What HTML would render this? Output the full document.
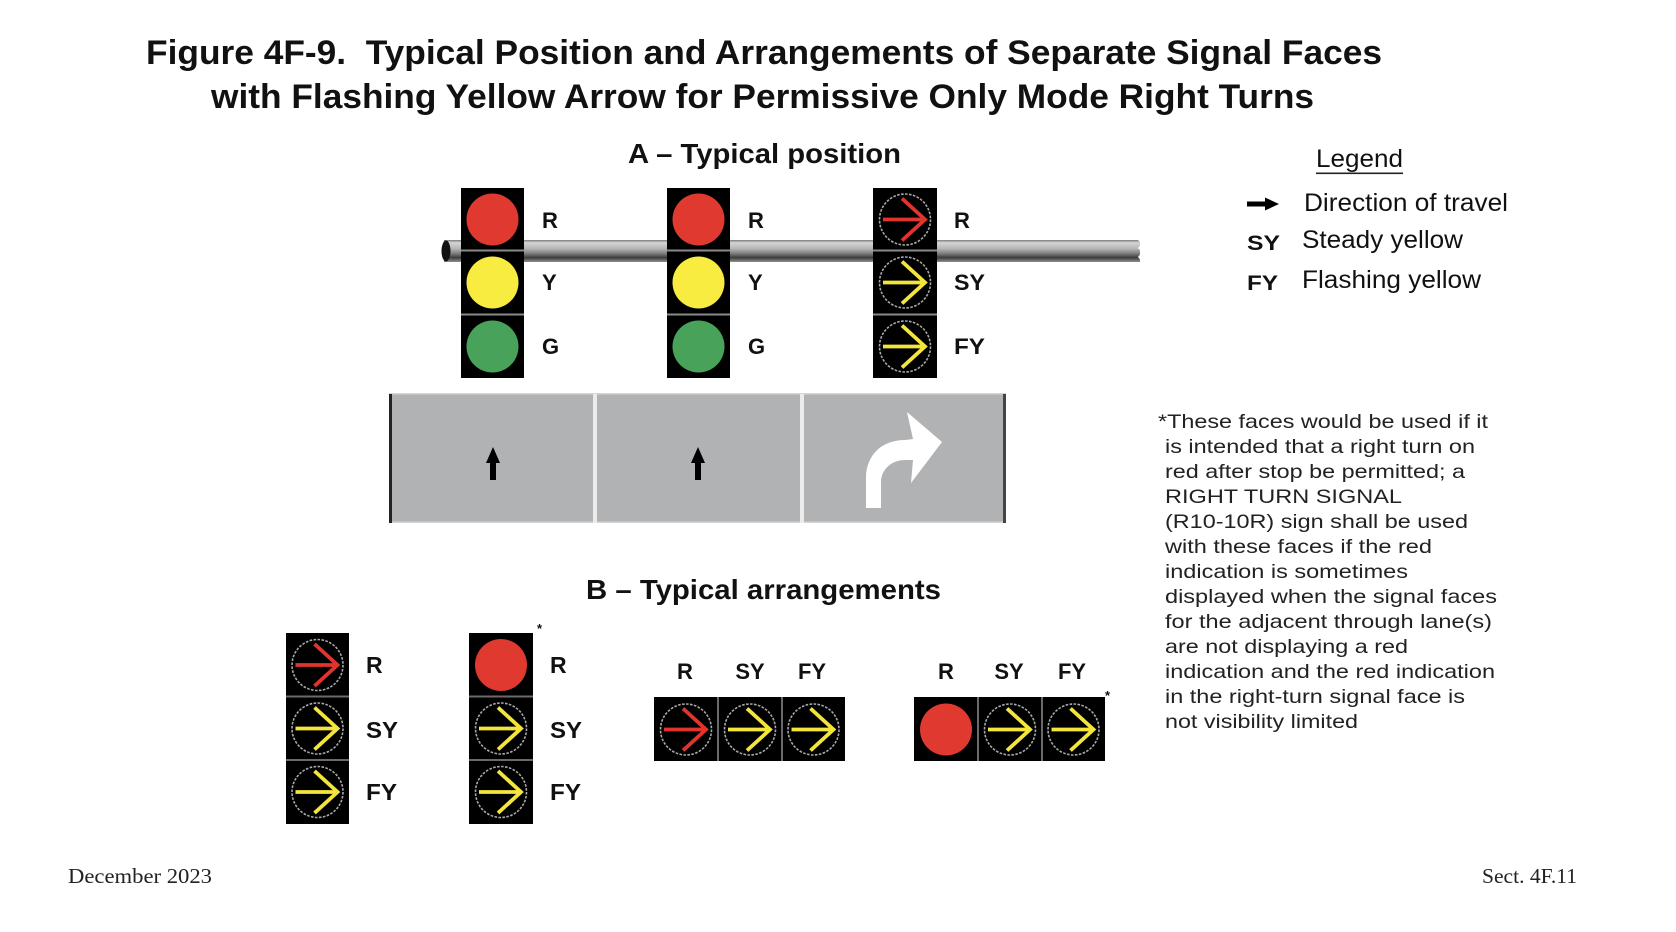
<!DOCTYPE html>
<html>
<head>
<meta charset="utf-8">
<style>
  html,body{margin:0;padding:0;background:#fff;}
  svg{display:block;}
  .t{font-family:"Liberation Sans",Arial,sans-serif;fill:#111;}
  .b{font-weight:bold;}
  .s{font-family:"Liberation Serif","Times New Roman",serif;fill:#222;}
</style>
</head>
<body>
<svg width="1676" height="932" viewBox="0 0 1676 932" xmlns="http://www.w3.org/2000/svg">
  <defs>
    <linearGradient id="pole" x1="0" y1="0" x2="0" y2="1">
      <stop offset="0" stop-color="#7a7a7a"/>
      <stop offset="0.12" stop-color="#d4d4d4"/>
      <stop offset="0.38" stop-color="#b8b8b8"/>
      <stop offset="0.6" stop-color="#828282"/>
      <stop offset="0.8" stop-color="#3c3c3c"/>
      <stop offset="1" stop-color="#909090"/>
    </linearGradient>
    <g id="aR">
      <circle r="25.5" fill="none" stroke="#a8a8a8" stroke-width="1.6" stroke-dasharray="2.6 1.4"/>
      <path d="M-22 0 H18 M-3 -21 L20 0 L-3 21" stroke="#e0342c" stroke-width="3.8" fill="none"/>
    </g>
    <g id="aY">
      <circle r="25.5" fill="none" stroke="#a8a8a8" stroke-width="1.6" stroke-dasharray="2.6 1.4"/>
      <path d="M-22 0 H18 M-3 -21 L20 0 L-3 21" stroke="#f3e53c" stroke-width="3.8" fill="none"/>
    </g>
  </defs>

  <!-- Title -->
  <text class="t b" x="146" y="64" font-size="34" textLength="1236" lengthAdjust="spacingAndGlyphs">Figure 4F-9.&#160; Typical Position and Arrangements of Separate Signal Faces</text>
  <text class="t b" x="211" y="108" font-size="34" textLength="1103" lengthAdjust="spacingAndGlyphs">with Flashing Yellow Arrow for Permissive Only Mode Right Turns</text>

  <!-- Section A title -->
  <text class="t b" x="628" y="163" font-size="28" textLength="273" lengthAdjust="spacingAndGlyphs">A – Typical position</text>

  <!-- Pole -->
  <rect x="444" y="240" width="696" height="22" fill="url(#pole)"/>
  <path d="M1138 240 L1142 244 L1138 248 L1142 252 L1138 257 L1142 262 L1146 262 L1146 240 Z" fill="#fff"/>
  <ellipse cx="446" cy="251" rx="4.5" ry="10.5" fill="#111"/>

  <!-- Section A heads -->
  <rect x="461" y="188" width="63" height="190" fill="#000"/>
  <rect x="461" y="249.5" width="63" height="2" fill="#8a8a8a"/>
  <rect x="461" y="313.5" width="63" height="2" fill="#8a8a8a"/>
  <circle cx="492.5" cy="219.5" r="26" fill="#e03a30"/>
  <circle cx="492.5" cy="282.5" r="26" fill="#f8ec40"/>
  <circle cx="492.5" cy="346.5" r="26" fill="#48a25a"/>
  <text class="t b" x="542" y="228" font-size="22">R</text>
  <text class="t b" x="542" y="290" font-size="22">Y</text>
  <text class="t b" x="542" y="354" font-size="22">G</text>

  <rect x="667" y="188" width="63" height="190" fill="#000"/>
  <rect x="667" y="249.5" width="63" height="2" fill="#8a8a8a"/>
  <rect x="667" y="313.5" width="63" height="2" fill="#8a8a8a"/>
  <circle cx="698.5" cy="219.5" r="26" fill="#e03a30"/>
  <circle cx="698.5" cy="282.5" r="26" fill="#f8ec40"/>
  <circle cx="698.5" cy="346.5" r="26" fill="#48a25a"/>
  <text class="t b" x="748" y="228" font-size="22">R</text>
  <text class="t b" x="748" y="290" font-size="22">Y</text>
  <text class="t b" x="748" y="354" font-size="22">G</text>

  <rect x="873" y="188" width="64" height="190" fill="#000"/>
  <rect x="873" y="249.5" width="64" height="2" fill="#8a8a8a"/>
  <rect x="873" y="313.5" width="64" height="2" fill="#8a8a8a"/>
  <use href="#aR" x="905" y="219.5"/>
  <use href="#aY" x="905" y="282.5"/>
  <use href="#aY" x="905" y="346.5"/>
  <text class="t b" x="954" y="228" font-size="22">R</text>
  <text class="t b" x="954" y="290" font-size="22" textLength="31" lengthAdjust="spacingAndGlyphs">SY</text>
  <text class="t b" x="954" y="354" font-size="22" textLength="31" lengthAdjust="spacingAndGlyphs">FY</text>

  <!-- Road -->
  <rect x="389" y="394" width="617" height="129" fill="#b1b2b4"/>
  <rect x="389" y="393" width="617" height="1.5" fill="#d6d6d6"/>
  <rect x="389" y="521.5" width="617" height="1.5" fill="#d6d6d6"/>
  <rect x="389" y="394" width="3" height="129" fill="#222"/>
  <rect x="1003" y="394" width="3" height="129" fill="#444"/>
  <rect x="593" y="394" width="4" height="129" fill="#ececec"/>
  <rect x="800" y="394" width="4" height="129" fill="#ececec"/>
  <path d="M486 463 L493 447 L500 463 Z" fill="#000"/>
  <rect x="490" y="460" width="6" height="20" fill="#000"/>
  <path d="M691 463 L698 447 L705 463 Z" fill="#000"/>
  <rect x="695" y="460" width="6" height="20" fill="#000"/>
  <path d="M866 508 L866 478 C866 456 881 440 905 440 L913 439 L907 412 L942 442 L911 483 L913 460 L905 460 C891 460 881 470 881 482 L881 508 Z" fill="#fff"/>

  <!-- Legend -->
  <text class="t" x="1316" y="167" font-size="25" textLength="87" lengthAdjust="spacingAndGlyphs">Legend</text>
  <rect x="1316" y="172.5" width="87" height="1.6" fill="#222"/>
  <rect x="1247" y="201.5" width="21" height="5" fill="#000"/>
  <path d="M1265 197.5 L1279 204 L1265 210.5 Z" fill="#000"/>
  <text class="t" x="1304" y="211" font-size="25" textLength="204" lengthAdjust="spacingAndGlyphs">Direction of travel</text>
  <text class="t b" x="1247" y="250" font-size="21" textLength="33" lengthAdjust="spacingAndGlyphs">SY</text>
  <text class="t" x="1302" y="248" font-size="25" textLength="161" lengthAdjust="spacingAndGlyphs">Steady yellow</text>
  <text class="t b" x="1247" y="290" font-size="21" textLength="31" lengthAdjust="spacingAndGlyphs">FY</text>
  <text class="t" x="1302" y="288" font-size="25" textLength="179" lengthAdjust="spacingAndGlyphs">Flashing yellow</text>

  <!-- Footnote -->
  <g class="t" font-size="19.5" style="fill:#222">
    <text x="1158" y="428" textLength="330" lengthAdjust="spacingAndGlyphs">*These faces would be used if it</text>
    <text x="1165" y="453" textLength="310" lengthAdjust="spacingAndGlyphs">is intended that a right turn on</text>
    <text x="1165" y="478" textLength="300" lengthAdjust="spacingAndGlyphs">red after stop be permitted; a</text>
    <text x="1165" y="503" textLength="237" lengthAdjust="spacingAndGlyphs">RIGHT TURN SIGNAL</text>
    <text x="1165" y="528" textLength="303" lengthAdjust="spacingAndGlyphs">(R10-10R) sign shall be used</text>
    <text x="1165" y="553" textLength="267" lengthAdjust="spacingAndGlyphs">with these faces if the red</text>
    <text x="1165" y="578" textLength="243" lengthAdjust="spacingAndGlyphs">indication is sometimes</text>
    <text x="1165" y="603" textLength="332" lengthAdjust="spacingAndGlyphs">displayed when the signal faces</text>
    <text x="1165" y="628" textLength="327" lengthAdjust="spacingAndGlyphs">for the adjacent through lane(s)</text>
    <text x="1165" y="653" textLength="243" lengthAdjust="spacingAndGlyphs">are not displaying a red</text>
    <text x="1165" y="678" textLength="330" lengthAdjust="spacingAndGlyphs">indication and the red indication</text>
    <text x="1165" y="703" textLength="300" lengthAdjust="spacingAndGlyphs">in the right-turn signal face is</text>
    <text x="1165" y="728" textLength="193" lengthAdjust="spacingAndGlyphs">not visibility limited</text>
  </g>

  <!-- Section B title -->
  <text class="t b" x="586" y="599" font-size="28" textLength="355" lengthAdjust="spacingAndGlyphs">B – Typical arrangements</text>

  <!-- B1 vertical -->
  <rect x="286" y="633" width="63" height="191" fill="#000"/>
  <rect x="286" y="695.5" width="63" height="2" fill="#6a6a6a"/>
  <rect x="286" y="759" width="63" height="2" fill="#6a6a6a"/>
  <use href="#aR" x="317.5" y="665"/>
  <use href="#aY" x="317.5" y="728.5"/>
  <use href="#aY" x="317.5" y="792"/>
  <text class="t b" x="366" y="673" font-size="23">R</text>
  <text class="t b" x="366" y="738" font-size="23" textLength="32" lengthAdjust="spacingAndGlyphs">SY</text>
  <text class="t b" x="366" y="800" font-size="23" textLength="31" lengthAdjust="spacingAndGlyphs">FY</text>

  <!-- B2 vertical -->
  <rect x="469" y="633" width="64" height="191" fill="#000"/>
  <rect x="469" y="695.5" width="64" height="2" fill="#6a6a6a"/>
  <rect x="469" y="759" width="64" height="2" fill="#6a6a6a"/>
  <circle cx="501" cy="665" r="26" fill="#e03a30"/>
  <use href="#aY" x="501" y="728.5"/>
  <use href="#aY" x="501" y="792"/>
  <text class="t b" x="537" y="633" font-size="13">*</text>
  <text class="t b" x="550" y="673" font-size="23">R</text>
  <text class="t b" x="550" y="738" font-size="23" textLength="32" lengthAdjust="spacingAndGlyphs">SY</text>
  <text class="t b" x="550" y="800" font-size="23" textLength="31" lengthAdjust="spacingAndGlyphs">FY</text>

  <!-- H1 horizontal -->
  <text class="t b" x="685" y="679" font-size="22" text-anchor="middle">R</text>
  <text class="t b" x="750" y="679" font-size="22" text-anchor="middle">SY</text>
  <text class="t b" x="812" y="679" font-size="22" text-anchor="middle">FY</text>
  <rect x="654" y="697" width="191" height="64" fill="#000"/>
  <rect x="717" y="697" width="2" height="64" fill="#6a6a6a"/>
  <rect x="781" y="697" width="2" height="64" fill="#6a6a6a"/>
  <use href="#aR" x="686" y="729.5"/>
  <use href="#aY" x="750" y="729.5"/>
  <use href="#aY" x="813.5" y="729.5"/>

  <!-- H2 horizontal -->
  <text class="t b" x="946" y="679" font-size="22" text-anchor="middle">R</text>
  <text class="t b" x="1009" y="679" font-size="22" text-anchor="middle">SY</text>
  <text class="t b" x="1072" y="679" font-size="22" text-anchor="middle">FY</text>
  <rect x="914" y="697" width="191" height="64" fill="#000"/>
  <rect x="977" y="697" width="2" height="64" fill="#6a6a6a"/>
  <rect x="1041" y="697" width="2" height="64" fill="#6a6a6a"/>
  <circle cx="946" cy="729.5" r="26" fill="#e03a30"/>
  <use href="#aY" x="1010" y="729.5"/>
  <use href="#aY" x="1073.5" y="729.5"/>
  <text class="t b" x="1105" y="700" font-size="13">*</text>

  <!-- Footer -->
  <text class="s" x="68" y="883" font-size="21" textLength="144" lengthAdjust="spacingAndGlyphs">December 2023</text>
  <text class="s" x="1482" y="883" font-size="21" textLength="95" lengthAdjust="spacingAndGlyphs">Sect. 4F.11</text>
</svg>
</body>
</html>
